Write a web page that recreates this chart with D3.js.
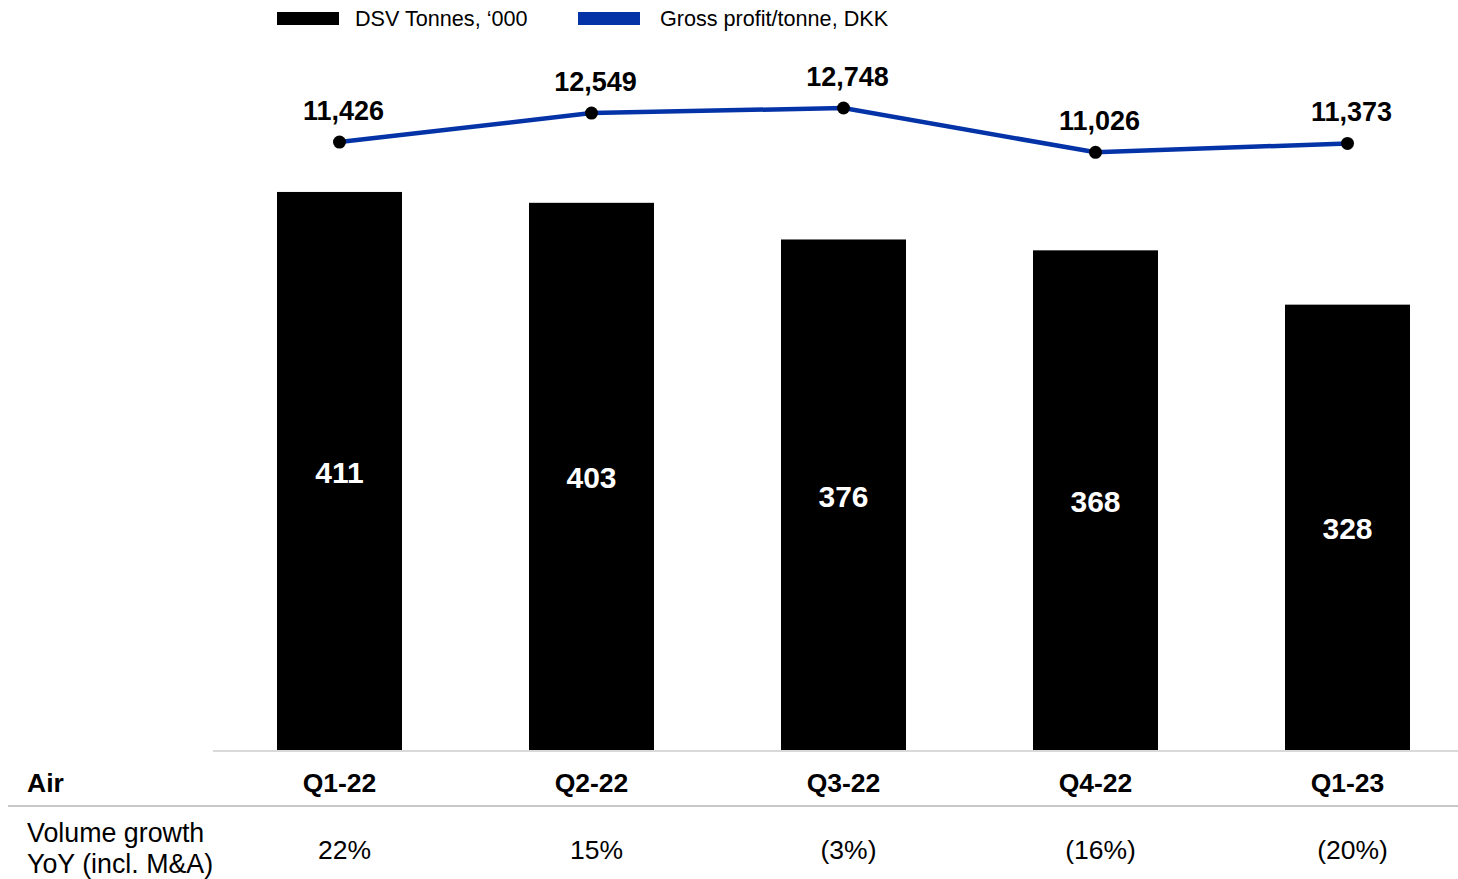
<!DOCTYPE html>
<html>
<head>
<meta charset="utf-8">
<script src="https://cdn.jsdelivr.net/npm/d3@7"></script>
<style>
  html, body { margin: 0; padding: 0; background: #fff; }
  svg { display: block; font-family: "Liberation Sans", Arial, sans-serif; }
</style>
</head>
<body>
<svg id="chart" width="1458" height="879"></svg>
<script>
// Quarterly air freight figures
const quarters = ["Q1-22", "Q2-22", "Q3-22", "Q4-22", "Q1-23"];
const tonnes = [411, 403, 376, 368, 328];            // DSV Tonnes, '000
const grossProfit = [11426, 12549, 12748, 11026, 11373]; // Gross profit/tonne, DKK
const volumeGrowth = ["22%", "15%", "(3%)", "(16%)", "(20%)"];
const legendLabels = ["DSV Tonnes, \u2018000", "Gross profit/tonne, DKK"];

const BLUE = "#0433a8";
const svg = d3.select("#chart");

const x = d3.scaleBand()
  .domain(quarters)
  .range([214, 1473])
  .paddingInner(0.504)
  .paddingOuter(0.25);

const yBar = d3.scaleLinear().domain([0, 450]).range([750, 139]);
const yLine = d3.scaleLinear().domain([11000, 13000]).range([153, 101.5]);

const fmt = d3.format(",");

// Bars
svg.append("g").selectAll("rect")
  .data(tonnes)
  .join("rect")
  .attr("x", (d, i) => x(quarters[i]))
  .attr("y", d => yBar(d))
  .attr("width", x.bandwidth())
  .attr("height", d => yBar(0) - yBar(d))
  .attr("fill", "#000");

// Bar value labels
svg.append("g").selectAll("text")
  .data(tonnes)
  .join("text")
  .attr("x", (d, i) => x(quarters[i]) + x.bandwidth() / 2)
  .attr("y", d => (yBar(d) + yBar(0)) / 2 + 1)
  .attr("dy", "0.36em")
  .attr("text-anchor", "middle")
  .attr("fill", "#fff")
  .attr("font-weight", "bold")
  .attr("font-size", 30)
  .text(d => d);

// Baseline axis
svg.append("line")
  .attr("x1", 213).attr("x2", 1458)
  .attr("y1", 751).attr("y2", 751)
  .attr("stroke", "#d9d9d9").attr("stroke-width", 2);

// Gross profit line
const cx = (d, i) => x(quarters[i]) + x.bandwidth() / 2;
svg.append("path")
  .datum(grossProfit)
  .attr("d", d3.line().x(cx).y(d => yLine(d)))
  .attr("fill", "none")
  .attr("stroke", BLUE)
  .attr("stroke-width", 4.5);

svg.append("g").selectAll("circle")
  .data(grossProfit)
  .join("circle")
  .attr("cx", cx)
  .attr("cy", d => yLine(d))
  .attr("r", 6.5)
  .attr("fill", "#000");

svg.append("g").selectAll("text")
  .data(grossProfit)
  .join("text")
  .attr("x", (d, i) => cx(d, i) + 4)
  .attr("y", d => yLine(d) - 32)
  .attr("dy", "0.36em")
  .attr("text-anchor", "middle")
  .attr("font-weight", "bold")
  .attr("font-size", 27)
  .attr("fill", "#000")
  .text(d => fmt(d));

// Category row
svg.append("text")
  .attr("x", 27).attr("y", 782).attr("dy", "0.36em")
  .attr("font-weight", "bold").attr("font-size", 26.5)
  .text("Air");

svg.append("g").selectAll("text")
  .data(quarters)
  .join("text")
  .attr("x", d => x(d) + x.bandwidth() / 2)
  .attr("y", 782)
  .attr("dy", "0.36em")
  .attr("text-anchor", "middle")
  .attr("font-weight", "bold")
  .attr("font-size", 26.5)
  .text(d => d);

// Separator
svg.append("line")
  .attr("x1", 8).attr("x2", 1458)
  .attr("y1", 806).attr("y2", 806)
  .attr("stroke", "#c8c8c8").attr("stroke-width", 2);

// Volume growth row
const rowLabel = svg.append("text")
  .attr("x", 27).attr("font-size", 26.8);
rowLabel.append("tspan").attr("x", 27).attr("y", 832).attr("dy", "0.36em").text("Volume growth");
rowLabel.append("tspan").attr("x", 27).attr("y", 863).attr("dy", "0.36em").text("YoY (incl. M&A)");

svg.append("g").selectAll("text")
  .data(volumeGrowth)
  .join("text")
  .attr("x", (d, i) => x(quarters[i]) + x.bandwidth() / 2 + 5)
  .attr("y", 849)
  .attr("dy", "0.36em")
  .attr("text-anchor", "middle")
  .attr("font-size", 26.5)
  .text(d => d);

// Legend
const legend = svg.append("g");
const legendItems = [
  { label: legendLabels[0], color: "#000", x: 277, tx: 355 },
  { label: legendLabels[1], color: BLUE, x: 578, tx: 660 }
];
legend.selectAll("rect")
  .data(legendItems)
  .join("rect")
  .attr("x", d => d.x).attr("y", 12)
  .attr("width", 62).attr("height", 13)
  .attr("fill", d => d.color);
legend.selectAll("text")
  .data(legendItems)
  .join("text")
  .attr("x", d => d.tx).attr("y", 18).attr("dy", "0.36em")
  .attr("font-size", 21.6)
  .attr("fill", "#000")
  .text(d => d.label);
</script>
</body>
</html>
